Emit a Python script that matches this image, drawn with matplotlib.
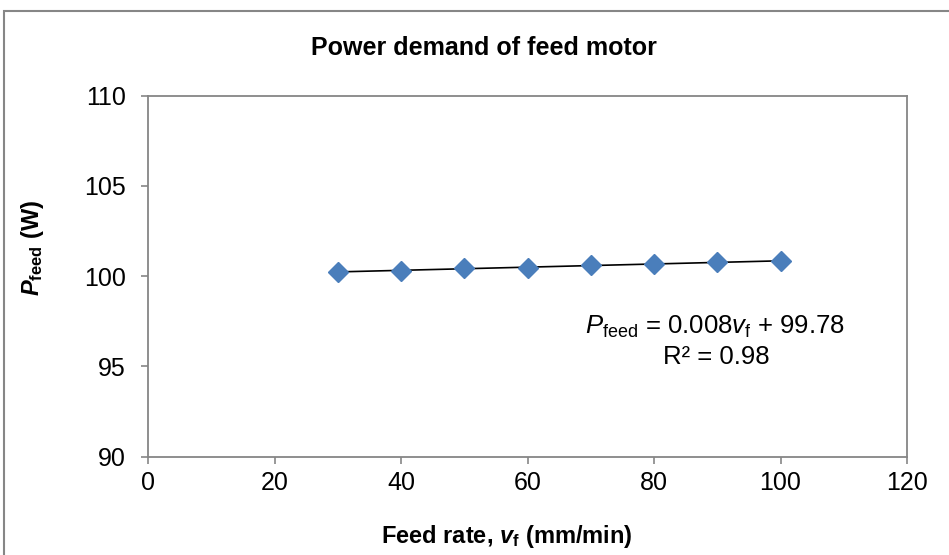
import numpy as np
import matplotlib.pyplot as plt
from matplotlib.patches import Rectangle

plt.rcParams['font.family'] = ['Liberation Sans', 'DejaVu Sans']
plt.rcParams['mathtext.fontset'] = 'custom'
plt.rcParams['mathtext.rm'] = 'Liberation Sans'
plt.rcParams['mathtext.it'] = 'Liberation Sans:italic'
plt.rcParams['mathtext.bf'] = 'Liberation Sans:bold'
plt.rcParams['mathtext.bfit'] = 'Liberation Sans:bold:italic'

# data
feed_rate = [30, 40, 50, 60, 70, 80, 90, 100]
p_feed = [100.24, 100.28, 100.48, 100.47, 100.61, 100.65, 100.80, 100.83]
x_ticks = [0, 20, 40, 60, 80, 100, 120]
y_ticks = [90, 95, 100, 105, 110]

gray = '#868686'
blue = '#4a7ebb'

fig = plt.figure(figsize=(9.49, 5.55), dpi=100)
ax = fig.add_axes([148 / 949, 1 - 456.7 / 555, (907 - 148) / 949, (456.7 - 95.7) / 555])

# outer chart border (cut off at right and bottom)
fig.patches.append(Rectangle((3.5 / 949, -0.1), 1.2, 1 - 10.5 / 555 + 0.1,
                             transform=fig.transFigure, fill=False,
                             edgecolor=gray, linewidth=1.5))

# linear trendline
k, b = np.polyfit(feed_rate, p_feed, 1)
xs = np.array([feed_rate[0], feed_rate[-1]])
ax.plot(xs, k * xs + b, color='black', linewidth=1.2, zorder=2)

ax.plot(feed_rate, p_feed, linestyle='none', marker='D', markersize=10,
        color=blue, markeredgecolor=blue, zorder=3)

ax.set_xlim(0, 120)
ax.set_ylim(90, 110)
ax.set_xticks(x_ticks)
ax.set_yticks(y_ticks)
ax.tick_params(direction='out', length=5, width=1.2, color=gray,
               labelsize=18)
ax.tick_params(axis='y', pad=11)
ax.tick_params(axis='x', pad=5)
for s in ax.spines.values():
    s.set_color(gray)
    s.set_linewidth(1.3)

ax.text(89.6, 97.2, r'$\mathit{P}_{\mathrm{feed}}$ = 0.008$\mathit{v}_{\mathrm{f}}$ + 99.78',
        fontsize=18.5, ha='center', va='center')
ax.text(89.8, 95.55, 'R² = 0.98', fontsize=18.5, ha='center', va='center')

fig.text(484 / 949, 1 - 48 / 555, 'Power demand of feed motor',
         fontsize=18, fontweight='bold', ha='center', va='center')
fig.text(507 / 949, 1 - 537 / 555, r'Feed rate, $\mathbfit{v}_{\mathbf{f}}$ (mm/min)',
         fontsize=17, fontweight='bold', ha='center', va='center')
fig.text(33 / 949, 1 - 248 / 555, r'$\mathbfit{P}_{\mathbf{feed}}$ (W)',
         fontsize=17, fontweight='bold', ha='center', va='center', rotation=90)

fig.savefig('out.png', dpi=100)
